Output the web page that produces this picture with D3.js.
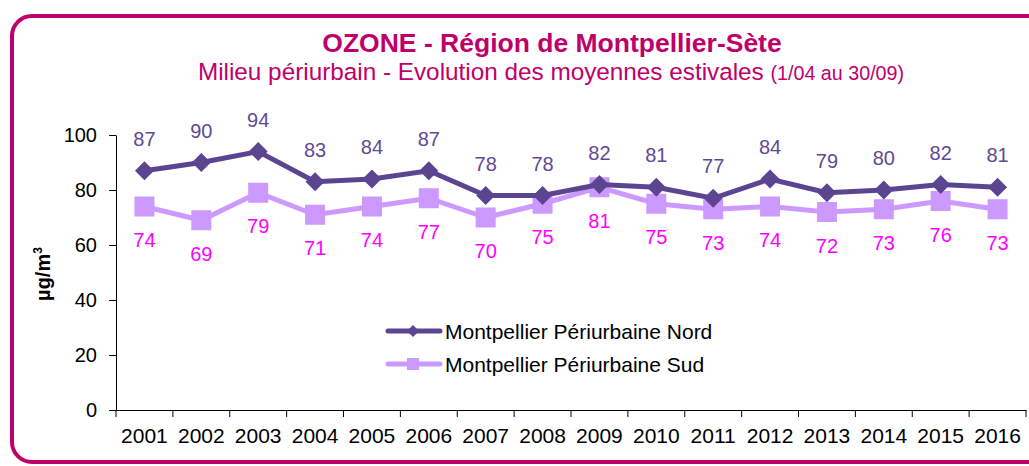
<!DOCTYPE html>
<html><head><meta charset="utf-8">
<script src="https://cdn.jsdelivr.net/npm/d3@7"></script>
<style>
html,body{margin:0;padding:0;background:#fff;}
svg{display:block;font-family:"Liberation Sans",Arial,sans-serif;}
</style></head><body>
<svg id="c" width="1029" height="466"></svg>
<script>
const years = ["2001","2002","2003","2004","2005","2006","2007","2008","2009","2010","2011","2012","2013","2014","2015","2016"];
const nord = [87,90,94,83,84,87,78,78,82,81,77,84,79,80,82,81];
const sud  = [74,69,79,71,74,77,70,75,81,75,73,74,72,73,76,73];
const yTicks = [0,20,40,60,80,100];
const seriesNames = ["Montpellier Périurbaine Nord","Montpellier Périurbaine Sud"];

const svg = d3.select("#c");
const magenta = "#C0006A";
const cNord = "#5C4590", cSud = "#CC99FF";
const lNord = "#604A94", lSud = "#FF00FF";
const FF = "Liberation Sans, Arial, sans-serif";

// frame
svg.append("rect").attr("x",12).attr("y",16).attr("width",1040).attr("height",446)
  .attr("rx",20).attr("ry",20).attr("fill","none").attr("stroke",magenta).attr("stroke-width",4);

// titles
svg.append("text").attr("x",552).attr("y",52).attr("text-anchor","middle")
  .attr("font-size",26.5).attr("font-weight","bold").attr("fill",magenta)
  .text("OZONE - Région de Montpellier-Sète");
const sub = svg.append("text").attr("x",551).attr("y",80).attr("text-anchor","middle")
  .attr("font-size",24.3).attr("fill",magenta);
sub.append("tspan").text("Milieu périurbain - Evolution des moyennes estivales ");
sub.append("tspan").attr("font-size",19.7).text("(1/04 au 30/09)");

const x = d3.scaleBand().domain(years).range([116,1026]);
const y = d3.scaleLinear().domain([0,100]).range([410,135]);

// y axis
const ya = svg.append("g").attr("transform","translate(116,0)")
  .call(d3.axisLeft(y).tickValues(yTicks).tickSize(7).tickPadding(12).tickSizeOuter(0));
ya.select(".domain").attr("stroke","#000");
ya.selectAll("line").attr("stroke","#000");
ya.selectAll("text").attr("font-size",20).attr("fill","#000").attr("font-family",FF);

// x axis
const xa = svg.append("g").attr("transform","translate(0,410)")
  .call(d3.axisBottom(x).tickSize(0).tickPadding(18).tickSizeOuter(0));
xa.select(".domain").attr("stroke","#000");
xa.selectAll("text").attr("font-size",21).attr("fill","#000").attr("font-family",FF);
// ticks between categories
const bounds = years.map(d=>x(d)).concat([x(years[years.length-1])+x.bandwidth()]);
svg.append("g").selectAll("line").data(bounds).join("line")
  .attr("x1",d=>d).attr("x2",d=>d).attr("y1",410).attr("y2",417).attr("stroke","#000");

// y label
svg.append("text").attr("transform","translate(50,274) rotate(-90)").attr("text-anchor","middle")
  .attr("font-size",20).attr("font-weight","bold").attr("fill","#000")
  .html('µg/m<tspan dy="-8" font-size="12">3</tspan>');

const cx = d=>x(d)+x.bandwidth()/2;
const line = d3.line().x((d,i)=>cx(years[i])).y(d=>y(d));

// Sud line
svg.append("path").datum(sud).attr("d",line).attr("fill","none").attr("stroke",cSud).attr("stroke-width",5);
svg.append("g").selectAll("rect").data(sud).join("rect")
  .attr("x",(d,i)=>cx(years[i])-10).attr("y",d=>y(d)-10).attr("width",20).attr("height",20).attr("fill",cSud);
// Nord line
svg.append("path").datum(nord).attr("d",line).attr("fill","none").attr("stroke",cNord).attr("stroke-width",5);
const diamond = (s)=>`M0,${-s}L${s},0L0,${s}L${-s},0Z`;
svg.append("g").selectAll("path").data(nord).join("path")
  .attr("transform",(d,i)=>`translate(${cx(years[i])},${y(d)})`).attr("d",diamond(9.5)).attr("fill",cNord);

// labels
svg.append("g").selectAll("text").data(nord).join("text")
  .attr("x",(d,i)=>cx(years[i])).attr("y",d=>y(d)-25).attr("text-anchor","middle")
  .attr("font-size",20).attr("fill",lNord).text(d=>d);
svg.append("g").selectAll("text").data(sud).join("text")
  .attr("x",(d,i)=>cx(years[i])).attr("y",d=>y(d)+40.5).attr("text-anchor","middle")
  .attr("font-size",20).attr("fill",lSud).text(d=>d);

// legend
const lg = svg.append("g");
[[cNord,"d"],[cSud,"s"]].forEach((s,i)=>{
  const ly = 331 + i*33;
  lg.append("line").attr("x1",388).attr("x2",440).attr("y1",ly).attr("y2",ly)
    .attr("stroke",s[0]).attr("stroke-width",5).attr("stroke-linecap","round");
  if(s[1]==="d") lg.append("path").attr("transform",`translate(413,${ly})`).attr("d",diamond(6)).attr("fill",s[0]);
  else lg.append("rect").attr("x",407).attr("y",ly-6).attr("width",12).attr("height",12).attr("fill",s[0]);
  lg.append("text").attr("x",445).attr("y",ly+8).attr("font-size",21).attr("fill","#000").text(seriesNames[i]);
});
</script></body></html>
